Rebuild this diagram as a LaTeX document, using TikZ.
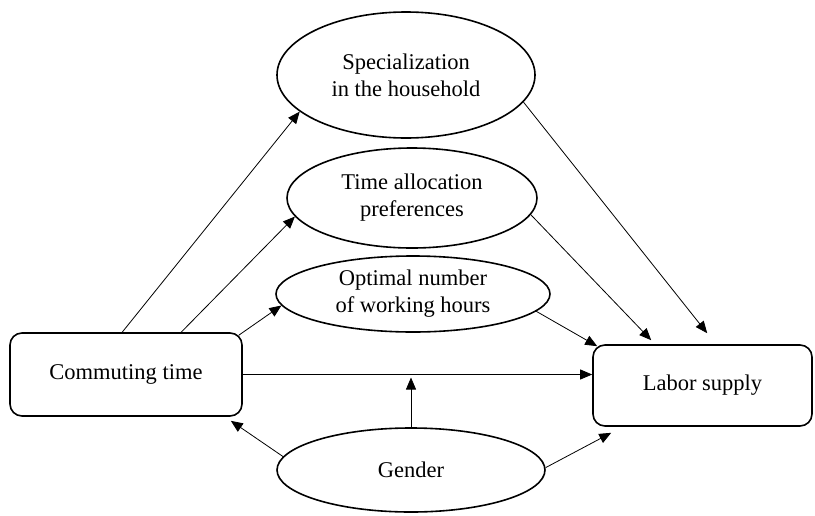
\documentclass[tikz,border=0pt]{standalone}
\usepackage{fontspec}
\setmainfont{Liberation Serif}
\usetikzlibrary{shapes.geometric,arrows.meta,calc}
\begin{document}
\begin{tikzpicture}[x=1pt,y=-1pt,
  lbl/.style={font=\fontsize{22.5}{27}\selectfont, align=center, inner sep=0pt},
  box/.style={lbl, draw, line width=1.6pt, rounded corners=12pt},
  oval/.style={lbl, draw, ellipse, line width=1.6pt},
  link/.style={line width=0.8pt, -{Triangle[length=12pt,width=10pt]}}]
\useasboundingbox (0,0) rectangle (815,515);
\node[box, minimum width=232pt, minimum height=83pt] (comm) at (126,374.5) {Commuting time};
\node[box, minimum width=219pt, minimum height=81pt] (labor) at (702.5,385.5) {Labor supply};
\node[oval, minimum width=258pt, minimum height=126pt] (spec) at (406,75) {Specialization\\in the household};
\node[oval, minimum width=250pt, minimum height=100pt] (time) at (412,198) {Time allocation\\preferences};
\node[oval, minimum width=274pt, minimum height=76pt] (opt) at (413,294) {Optimal number\\of working hours};
\node[oval, minimum width=268pt, minimum height=84pt] (gen) at (411,470) {Gender};
\coordinate (t1) at ($(labor.north west)+(115,-11)$);
\coordinate (t2) at ($(labor.north west)+(59,-4)$);
\coordinate (t3) at ($(labor.north west)+(5,2)$);
\coordinate (t4) at ($(gen.north |- comm.east)+(0,3)$);
\coordinate (t5) at ($(comm.south east)+(-12,4)$);
\coordinate (t6) at ($(labor.south west)+(19,6)$);
\draw[link] ($(comm.north west)+(113,0)$) -- (spec.199);
\draw[link] ($(comm.north west)+(172,0)$) -- (time.189);
\draw[link] ($(comm.north east)+(-4,3)$) -- (opt.185);
\draw[link] (comm.east) -- (comm.east -| labor.west);
\draw[link] (spec.347) -- (t1);
\draw[link] (time.352) -- (t2);
\draw[link] (opt.352) -- (t3);
\draw[link] (gen.north) -- (t4);
\draw[link] (gen.174) -- (t5);
\draw[link] (gen.1) -- (t6);
\end{tikzpicture}
\end{document}
